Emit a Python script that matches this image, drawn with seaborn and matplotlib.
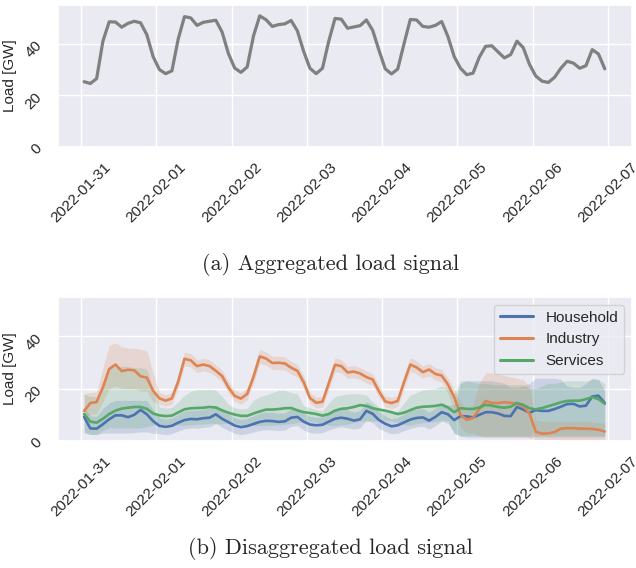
import numpy as np
import pandas as pd
import matplotlib
matplotlib.use("Agg")
import matplotlib.pyplot as plt
import matplotlib.dates as mdates
import seaborn as sns

# ---------------- data (2-hourly, starting 2022-01-31 01:00) ----------------
START = "2022-01-31 01:00"
N_POINTS = 84

TOTAL = [25.3, 24.6, 26.5, 41.0, 48.5, 48.4, 46.4, 47.9, 48.7, 48.1, 43.5, 35.0,
         30.0, 28.4, 29.5, 41.8, 50.5, 50.0, 47.1, 48.3, 48.7, 49.1, 44.5, 36.2,
         30.6, 28.9, 31.0, 43.0, 50.8, 49.3, 46.7, 47.4, 47.7, 49.0, 45.0, 37.0,
         30.5, 28.4, 30.5, 41.0, 49.8, 49.5, 46.0, 46.5, 47.0, 49.2, 45.2, 37.5,
         30.3, 28.3, 30.2, 40.0, 49.4, 49.2, 46.7, 46.4, 47.1, 48.6, 42.8, 35.0,
         30.5, 28.0, 28.6, 34.8, 39.0, 39.2, 36.8, 34.5, 35.8, 41.0, 38.5, 32.0,
         27.5, 25.5, 25.0, 27.0, 30.5, 33.2, 32.5, 30.5, 31.5, 37.7, 36.0, 30.3]

HOUSEHOLD = [9.2, 4.8, 4.7, 6.4, 8.3, 9.8, 9.8, 9.1, 10.0, 11.9, 10.2, 7.6,
             5.8, 5.4, 5.8, 7.0, 8.0, 8.4, 8.3, 8.7, 8.9, 10.2, 8.5, 7.2,
             5.9, 5.3, 5.7, 6.5, 7.3, 7.7, 7.6, 7.3, 7.5, 8.9, 9.2, 7.4,
             6.3, 6.0, 6.2, 7.4, 8.5, 8.9, 8.5, 7.8, 8.3, 11.5, 10.4, 8.0,
             6.6, 5.6, 6.0, 7.1, 8.2, 8.8, 9.0, 7.8, 9.2, 11.0, 10.2, 8.0,
             9.5, 9.4, 9.0, 10.0, 11.0, 11.0, 10.5, 9.6, 9.5, 13.0, 12.0, 10.8,
             11.8, 11.5, 11.5, 12.2, 13.1, 14.1, 14.2, 13.2, 13.5, 17.0, 17.3, 14.5]
HOUSEHOLD_LO = [3.5, 2.5, 2.5, 3.0, 3.0, 3.0, 3.0, 3.0, 3.2, 3.5, 3.5, 3.0,
                2.8, 2.4, 2.8, 3.8, 4.6, 5.0, 4.9, 5.2, 5.4, 6.7, 5.2, 4.0,
                2.9, 2.4, 2.8, 3.4, 4.0, 4.3, 4.2, 4.0, 4.2, 5.6, 5.9, 4.2,
                3.2, 3.0, 3.2, 4.2, 5.0, 5.4, 5.0, 4.6, 5.0, 8.0, 7.0, 4.8,
                3.6, 2.8, 3.0, 4.0, 4.8, 5.4, 5.6, 4.6, 5.8, 7.6, 6.8, 3.0,
                1.8, 1.5, 1.5, 1.5, 1.5, 1.5, 1.5, 1.5, 1.5, 1.5, 1.5, 1.5,
                1.5, 1.5, 1.5, 1.5, 1.5, 1.5, 1.5, 1.5, 1.5, 1.5, 1.5, 1.5]
HOUSEHOLD_HI = [13.0, 9.5, 9.5, 12.5, 14.5, 15.5, 15.5, 15.5, 15.5, 15.5, 15.5, 12.0,
                9.0, 8.4, 8.8, 10.2, 11.4, 11.8, 11.7, 12.2, 12.4, 13.7, 12.0, 10.4,
                8.9, 8.2, 8.6, 9.6, 10.6, 11.1, 11.0, 10.6, 10.8, 12.2, 12.5, 10.6,
                9.4, 9.0, 9.2, 10.6, 11.9, 12.4, 11.9, 11.0, 11.6, 15.0, 13.8, 11.2,
                9.6, 8.4, 9.0, 10.2, 11.6, 12.2, 12.4, 11.0, 12.6, 14.4, 13.6, 14.0,
                22.0, 23.0, 23.0, 23.0, 23.0, 23.0, 22.5, 22.0, 20.5, 20.5, 21.0, 22.0,
                24.0, 24.0, 24.0, 24.0, 23.5, 21.0, 20.5, 20.5, 22.0, 24.0, 23.5, 19.0]

INDUSTRY = [11.5, 14.5, 14.9, 20.5, 27.5, 29.2, 26.7, 27.2, 27.0, 24.7, 24.2, 19.2,
            16.3, 15.4, 16.3, 22.7, 31.4, 30.8, 28.6, 29.2, 28.6, 26.8, 24.8, 20.5,
            17.2, 16.2, 18.0, 24.5, 32.3, 31.5, 29.8, 29.9, 29.6, 28.0, 26.8, 22.5,
            16.4, 14.6, 15.0, 22.0, 29.1, 28.6, 26.2, 26.5, 25.8, 24.4, 23.5, 19.0,
            15.1, 14.5, 15.3, 22.5, 29.2, 28.1, 26.3, 27.3, 25.6, 25.0, 21.6, 16.8,
            10.0, 8.1, 8.8, 12.2, 15.3, 14.5, 14.5, 14.8, 14.6, 14.2, 13.3, 10.5,
            3.5, 2.8, 2.9, 3.4, 4.7, 4.9, 4.9, 4.7, 4.7, 4.6, 4.3, 3.6]
INDUSTRY_LO = [9.0, 10.0, 10.5, 15.0, 20.0, 21.0, 20.0, 20.0, 20.0, 19.0, 19.0, 15.0,
               14.2, 13.3, 14.0, 20.2, 28.8, 28.3, 26.2, 26.8, 26.2, 24.6, 22.6, 18.2,
               15.0, 14.0, 15.8, 22.0, 29.6, 29.0, 27.3, 27.4, 27.1, 25.6, 24.5, 20.2,
               14.3, 12.6, 12.9, 19.6, 26.5, 26.1, 23.9, 24.2, 23.5, 22.1, 21.2, 16.8,
               13.0, 12.4, 13.2, 20.0, 26.6, 25.6, 23.9, 24.9, 23.2, 22.6, 18.0, 12.0,
               5.0, 3.0, 3.0, 2.0, 1.5, 1.5, 1.5, 1.5, 1.5, 1.5, 1.5, 1.2,
               0.5, 0.4, 0.4, 0.4, 0.5, 0.5, 0.5, 0.5, 0.5, 0.5, 0.5, 0.5]
INDUSTRY_HI = [18.0, 18.5, 18.8, 28.0, 36.5, 37.5, 36.0, 35.5, 35.5, 35.0, 34.5, 26.0,
               18.6, 17.6, 18.6, 25.2, 34.0, 33.4, 31.0, 31.6, 31.0, 29.0, 27.0, 22.8,
               19.4, 18.4, 20.2, 27.0, 35.0, 34.0, 32.3, 32.4, 32.1, 30.4, 29.1, 24.8,
               18.5, 16.6, 17.1, 24.4, 31.7, 31.1, 28.5, 28.8, 28.1, 26.7, 25.8, 21.2,
               17.2, 16.6, 17.4, 25.0, 31.8, 30.6, 28.7, 29.7, 28.0, 27.4, 24.0, 20.0,
               15.0, 12.0, 14.0, 22.0, 26.0, 26.0, 25.5, 25.0, 24.5, 24.0, 23.5, 21.0,
               8.0, 7.5, 7.5, 7.5, 7.5, 7.5, 7.5, 7.5, 7.5, 7.2, 7.0, 6.8]

SERVICES = [10.3, 7.4, 7.0, 8.5, 10.3, 11.6, 12.4, 12.7, 13.0, 13.0, 12.3, 10.5,
            9.8, 9.5, 9.7, 10.9, 12.1, 12.5, 12.6, 12.7, 13.0, 12.8, 11.7, 10.8,
            10.1, 9.6, 9.6, 10.5, 11.3, 12.0, 12.0, 12.2, 12.5, 12.6, 11.7, 11.0,
            10.7, 10.3, 9.7, 10.3, 11.6, 12.3, 12.5, 13.0, 13.7, 13.4, 12.5, 12.0,
            11.6, 11.0, 10.3, 10.8, 11.8, 12.7, 13.1, 13.2, 13.4, 13.9, 12.8, 11.0,
            12.5, 12.3, 12.2, 12.8, 13.8, 13.5, 13.0, 12.7, 13.1, 14.5, 13.8, 12.5,
            12.1, 12.6, 13.3, 14.0, 14.8, 15.3, 15.4, 15.4, 16.0, 16.8, 16.0, 14.2]
SERVICES_LO = [3.0, 2.5, 2.5, 4.0, 5.0, 5.0, 5.0, 5.0, 5.0, 5.0, 5.5, 6.0,
               6.5, 6.2, 6.2, 6.0, 6.0, 6.2, 6.4, 6.5, 6.8, 6.6, 6.5, 7.0,
               6.8, 6.4, 6.2, 6.0, 5.8, 6.0, 6.0, 6.2, 6.4, 6.6, 7.0, 7.4,
               7.4, 7.2, 6.6, 6.0, 5.8, 6.2, 6.4, 7.0, 7.6, 7.4, 7.6, 8.0,
               8.0, 7.6, 7.0, 6.2, 6.0, 6.6, 7.0, 7.2, 7.4, 7.8, 7.8, 3.0,
               2.0, 2.0, 2.0, 2.0, 2.0, 2.0, 2.0, 2.0, 2.0, 2.0, 2.0, 2.0,
               2.0, 2.0, 2.0, 2.0, 2.0, 2.0, 2.0, 2.0, 2.0, 2.0, 2.0, 2.0]
SERVICES_HI = [18.0, 17.0, 17.0, 22.0, 28.0, 28.5, 28.5, 28.5, 28.0, 28.0, 27.5, 20.0,
               13.0, 12.5, 12.8, 15.0, 17.5, 19.0, 19.6, 19.6, 19.8, 19.5, 17.0, 14.0,
               12.7, 12.2, 12.5, 15.5, 17.0, 17.5, 18.5, 19.3, 19.3, 18.5, 18.0, 13.5,
               12.7, 12.0, 11.5, 14.5, 17.0, 17.5, 18.0, 18.0, 18.0, 17.5, 15.0, 13.0,
               11.5, 11.2, 11.5, 14.5, 17.5, 18.5, 19.5, 19.8, 20.0, 21.0, 20.0, 18.0,
               23.0, 23.0, 22.5, 22.0, 22.0, 21.5, 21.5, 21.5, 21.5, 21.5, 21.5, 20.0,
               20.0, 21.0, 22.0, 22.0, 22.5, 23.0, 23.0, 23.0, 23.0, 23.5, 23.5, 22.0]

SECTORS = ["Household", "Industry", "Services"]
Y_TICKS = [0, 20, 40]
CAPTION_A = "(a) Aggregated load signal"
CAPTION_B = "(b) Disaggregated load signal"
Y_LABEL = "Load [GW]"

# ---------------- styling ----------------
sns.set_theme(style="darkgrid")
plt.rcParams["font.family"] = ["Liberation Sans", "DejaVu Sans"]
palette = sns.color_palette("deep")[:3]

times = pd.date_range(START, periods=N_POINTS, freq="2h")

fig = plt.figure(figsize=(6.36, 5.68), dpi=100)
ax1 = fig.add_axes([0.0912, 0.7412, 0.9025, 0.2500])
ax2 = fig.add_axes([0.0912, 0.2236, 0.9025, 0.2535])

# top: aggregated
sns.lineplot(x=times, y=TOTAL, color="grey", linewidth=2.3, ax=ax1)

# bottom: disaggregated
df = pd.DataFrame({
    "time": np.tile(times, 3),
    "load": HOUSEHOLD + INDUSTRY + SERVICES,
    "sector": np.repeat(SECTORS, N_POINTS),
})
sns.lineplot(data=df, x="time", y="load", hue="sector", palette=palette,
             linewidth=1.9, ax=ax2)
bands = [(HOUSEHOLD_LO, HOUSEHOLD_HI), (INDUSTRY_LO, INDUSTRY_HI), (SERVICES_LO, SERVICES_HI)]
for (lo, hi), c in zip(bands, palette):
    ax2.fill_between(times, lo, hi, color=c, alpha=0.2, linewidth=0)

x0 = pd.Timestamp("2022-01-31")
for ax in (ax1, ax2):
    ax.set_xlim(x0 - pd.Timedelta(days=0.305), x0 + pd.Timedelta(days=7.32))
    ax.set_ylim(0, 55)
    ax.set_yticks(Y_TICKS)
    ax.xaxis.set_major_locator(mdates.DayLocator())
    ax.xaxis.set_major_formatter(mdates.DateFormatter("%Y-%m-%d"))
    ax.tick_params(axis="x", labelrotation=45, labelsize=11)
    ax.tick_params(axis="y", labelrotation=45, labelsize=11)
    ax.set_xlabel("")
    ax.set_ylabel(Y_LABEL, fontsize=11)

leg = ax2.legend(loc="upper right", fontsize=11, handlelength=2.2)
for line in leg.get_lines():
    line.set_linewidth(2.2)

fig.text(0.52, 0.5335, CAPTION_A, ha="center", va="center", fontsize=16, family="cmr10")
fig.text(0.52, 0.0352, CAPTION_B, ha="center", va="center", fontsize=16, family="cmr10")

fig.savefig("out.png", dpi=100)
